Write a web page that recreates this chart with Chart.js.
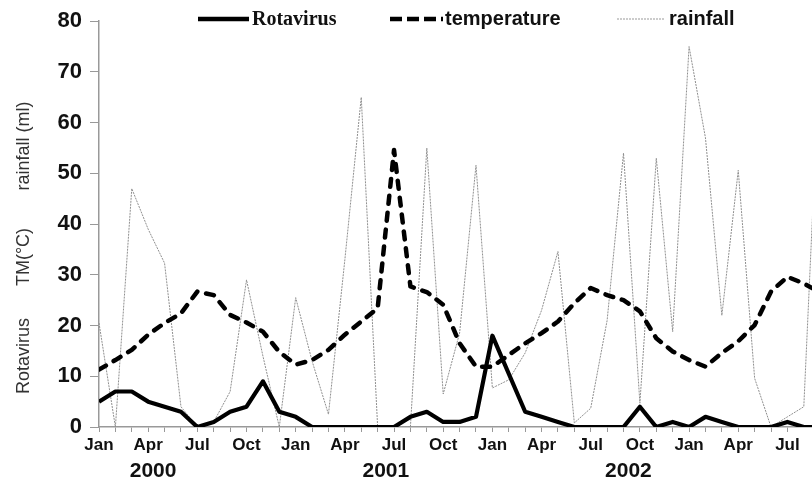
<!DOCTYPE html>
<html>
<head>
<meta charset="utf-8">
<title>Rotavirus, temperature and rainfall</title>
<script src="https://cdn.jsdelivr.net/npm/chart.js@4.4.1/dist/chart.umd.min.js"></script>
<style>
    html, body { margin: 0; padding: 0; background: #fff; overflow: hidden; }
    #wrap { width: 812px; height: 482px; }
</style>
</head>
<body>
<div id="wrap"><canvas id="rotaChart" width="812" height="482"></canvas></div>
<script>
// Monthly series, Jan 2000 onwards (last point runs past the right edge)
const months = ['Jan', 'Feb', 'Mar', 'Apr', 'May', 'Jun', 'Jul', 'Aug', 'Sep', 'Oct', 'Nov', 'Dec'];
const years = ['2000', '2001', '2002'];
const yearCenters = [3.3, 17.5, 32.3]; // month index under each year label

const rotavirus = [5, 7, 7, 5, 4, 3, 0, 1, 3, 4, 9, 3,
    2, 0, 0, 0, 0, 0, 0, 2, 3, 1, 1, 2,
    18, 10.5, 3, 2, 1, 0, 0, 0, 0, 4, 0, 1,
    0, 2, 1, 0, 0, 0, 1, 0, 0];

const temperature = [11.3, 13.2, 15.2, 18.2, 20.5, 22.4, 26.7, 26, 22.1, 20.6, 18.8, 14.8,
    12.3, 13.2, 15.2, 18.2, 20.8, 23.4, 54.6, 27.7, 26.6, 24.1, 16.5, 11.9,
    11.9, 14.2, 16.5, 18.5, 20.8, 24.4, 27.4, 26, 25, 22.8, 17.5, 14.9,
    13.2, 11.9, 14.6, 16.9, 20.1, 26.7, 29.6, 28.3, 26.5];

const rainfall = [20.5, 0, 47, 39, 32.3, 4, 0, 1, 7, 29, 14, 0,
    25.5, 13, 2.5, 33, 65, 0, 0, 0, 55, 6.5, 18.5, 51.6,
    7.7, 9.3, 14.6, 23, 34.6, 0.8, 3.7, 21, 54, 4.7, 53, 18.8,
    75, 57, 22, 50.6, 9.6, 0, 2, 4, 75];

const yMax = 80;
const yStep = 10;

const SANS = '"Liberation Sans", Arial, sans-serif';
const SERIF = '"Liberation Serif", "Times New Roman", serif';

function toPoints(values) {
    return values.map((v, i) => ({ x: i, y: v }));
}

// Axis titles, year labels and the legend
const decorations = {
    id: 'decorations',
    afterDraw(chart) {
        const ctx = chart.ctx;
        const xScale = chart.scales.x;
        ctx.save();

        // rotated y titles
        ctx.fillStyle = '#333';
        ctx.font = '18px ' + SANS;
        ctx.textAlign = 'center';
        ctx.textBaseline = 'middle';
        [['Rotavirus', 356], ['TM(°C)', 257], ['rainfall (ml)', 146]].forEach(([txt, y]) => {
            ctx.save();
            ctx.translate(24, y);
            ctx.rotate(-Math.PI / 2);
            ctx.fillText(txt, 0, 0);
            ctx.restore();
        });

        // years under the month labels
        ctx.fillStyle = '#111';
        ctx.font = 'bold 21px ' + SANS;
        years.forEach((yr, i) => {
            ctx.fillText(yr, xScale.getPixelForValue(yearCenters[i]), 471);
        });

        // legend
        const ly = 19;
        ctx.textAlign = 'left';
        ctx.strokeStyle = '#000';
        ctx.lineWidth = 4.5;
        ctx.beginPath();
        ctx.moveTo(198, ly);
        ctx.lineTo(249, ly);
        ctx.stroke();
        ctx.font = 'bold 20px ' + SERIF;
        ctx.fillText('Rotavirus', 252, ly + 1);

        ctx.setLineDash([12, 5]);
        ctx.beginPath();
        ctx.moveTo(390, ly);
        ctx.lineTo(443, ly);
        ctx.stroke();
        ctx.setLineDash([]);
        ctx.font = 'bold 20px ' + SANS;
        ctx.fillText('temperature', 445, ly);

        ctx.strokeStyle = '#999';
        ctx.lineWidth = 1;
        ctx.setLineDash([2, 1]);
        ctx.beginPath();
        ctx.moveTo(617, ly);
        ctx.lineTo(664, ly);
        ctx.stroke();
        ctx.setLineDash([]);
        ctx.fillText('rainfall', 669, ly);

        ctx.restore();
    }
};

const ctx = document.getElementById('rotaChart').getContext('2d');
new Chart(ctx, {
    type: 'line',
    data: {
        datasets: [{
            label: 'Rotavirus',
            data: toPoints(rotavirus),
            borderColor: '#000',
            borderWidth: 4.2,
            pointRadius: 0,
            borderJoinStyle: 'round',
            order: 0
        }, {
            label: 'temperature',
            data: toPoints(temperature),
            borderColor: '#000',
            borderWidth: 4.5,
            borderDash: [8, 9],
            borderCapStyle: 'round',
            borderJoinStyle: 'round',
            pointRadius: 0,
            order: 1
        }, {
            label: 'rainfall',
            data: toPoints(rainfall),
            borderColor: '#8f8f8f',
            borderWidth: 1,
            borderDash: [2, 1],
            pointRadius: 0,
            order: 2
        }]
    },
    options: {
        responsive: false,
        animation: false,
        layout: { padding: { top: 21, right: 0, left: 0, bottom: 0 } },
        plugins: {
            legend: { display: false },
            tooltip: { enabled: false }
        },
        scales: {
            x: {
                type: 'linear',
                min: 0,
                max: 43.5,
                afterBuildTicks: function(scale) {
                    scale.ticks = scale.ticks.filter(t => Number.isInteger(t.value));
                },
                afterFit: function(scale) {
                    scale.height = 55;
                },
                ticks: {
                    stepSize: 1,
                    autoSkip: false,
                    maxRotation: 0,
                    padding: 3,
                    color: '#111',
                    font: { family: SANS, size: 17, weight: 'bold' },
                    callback: function(value) {
                        return value % 3 === 0 ? months[value % 12] : '';
                    }
                },
                grid: { drawOnChartArea: false, tickLength: 5, color: '#999' },
                border: { color: '#999', width: 1.5 }
            },
            y: {
                min: 0,
                max: yMax,
                afterFit: function(scale) {
                    scale.width = 99;
                },
                ticks: {
                    stepSize: yStep,
                    padding: 8,
                    color: '#111',
                    font: { family: SANS, size: 22, weight: 'bold' }
                },
                grid: { drawOnChartArea: false, tickLength: 9, color: '#999' },
                border: { color: '#999', width: 1.5 }
            }
        }
    },
    plugins: [decorations]
});
</script>
</body>
</html>
